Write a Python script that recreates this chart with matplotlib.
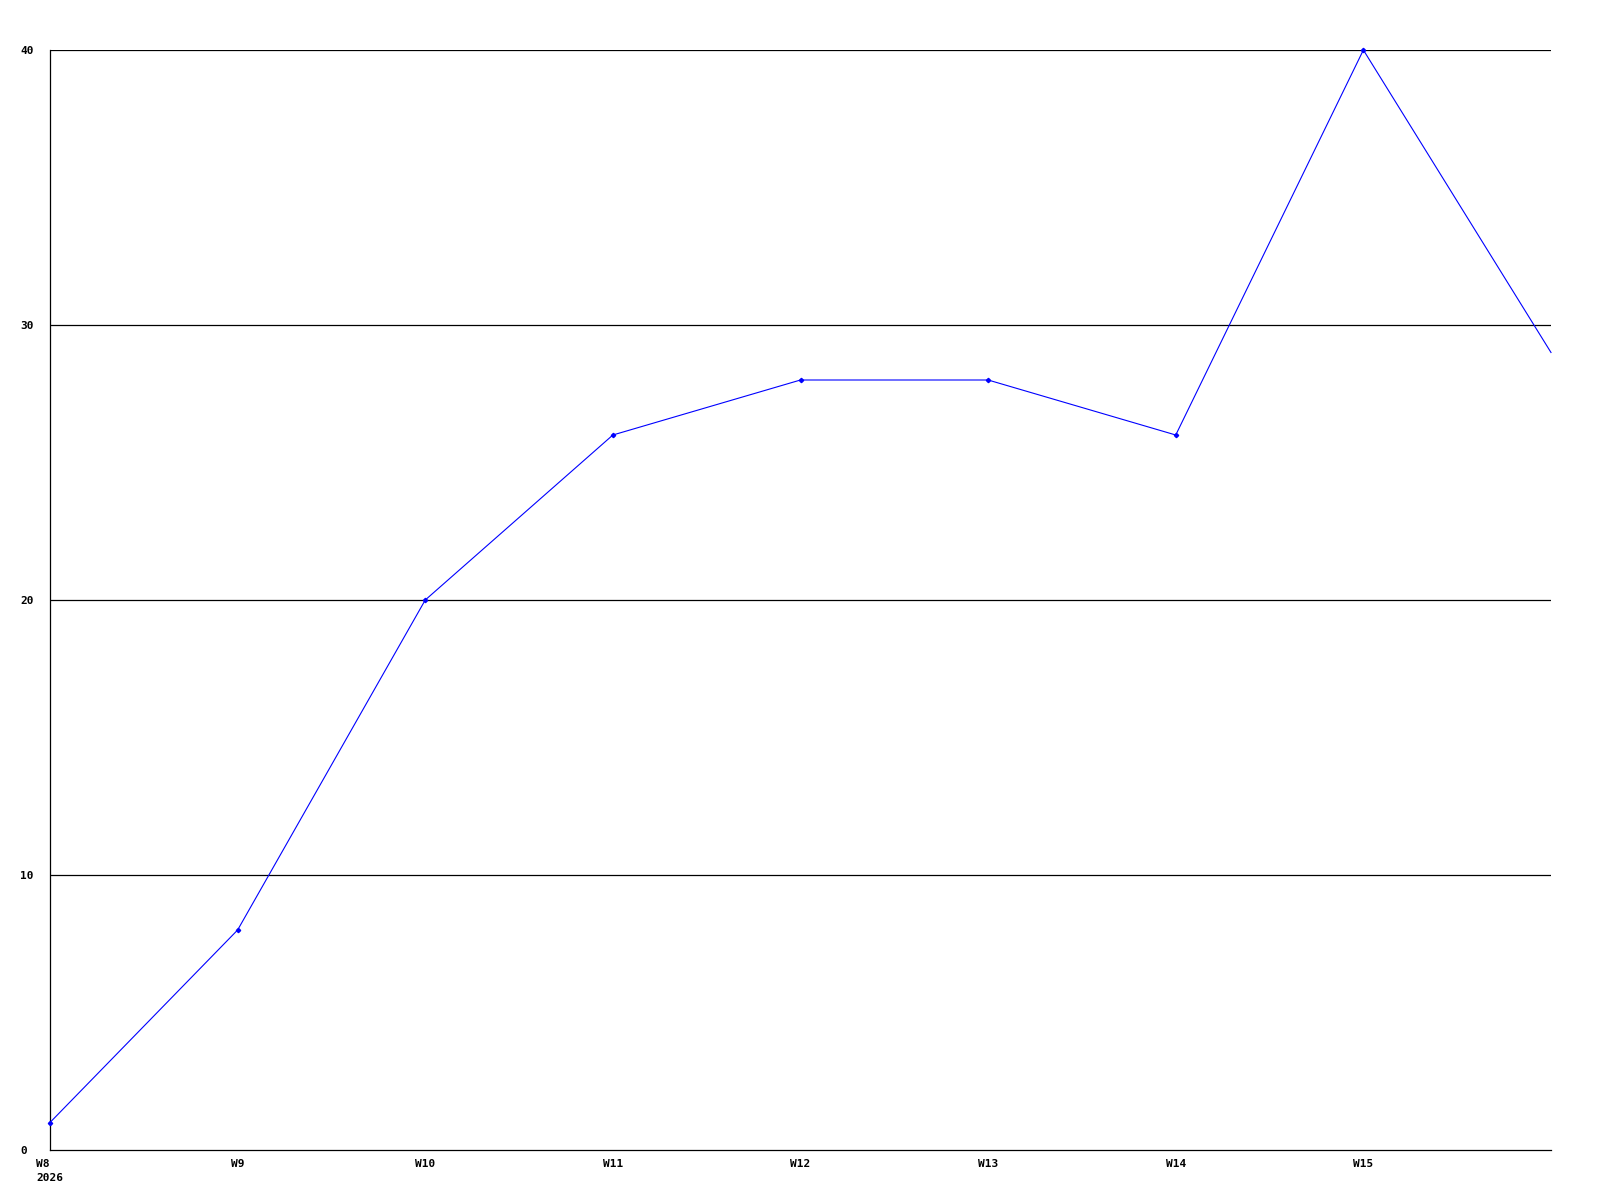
import matplotlib
matplotlib.use("Agg")
import matplotlib.pyplot as plt

weeks = ["W8", "W9", "W10", "W11", "W12", "W13", "W14", "W15", "W16"]
values = [1, 8, 20, 26, 28, 28, 26, 40, 29]
tick_labels = ["W8\n2026", "W9", "W10", "W11", "W12", "W13", "W14", "W15"]
y_ticks = [0, 10, 20, 30, 40]

plt.rcParams["font.family"] = "DejaVu Sans Mono"
plt.rcParams["font.weight"] = "bold"
plt.rcParams["font.size"] = 8

fig = plt.figure(figsize=(16, 12), dpi=100)
ax = fig.add_axes([50 / 1600, 1 - 1150 / 1200, 1501 / 1600, 1100 / 1200])

x = list(range(len(weeks)))
# last point sits on the right edge and has no marker in the original
ax.plot(x, values, color="#0000ff", linewidth=0.8, marker="D", markersize=2.2,
        markevery=list(range(len(weeks) - 1)), clip_on=False, zorder=3)

ax.set_xlim(0, len(weeks) - 1)
ax.set_ylim(0, 40)

ax.set_yticks(y_ticks)
ax.set_yticklabels([str(v) for v in y_ticks], ha="left")
ax.set_xticks(x[:len(tick_labels)])
ax.set_xticklabels(tick_labels, linespacing=1.5)
ax.get_xticklabels()[0].set_multialignment("left")
ax.tick_params(axis="y", length=0, pad=21.6)
ax.tick_params(axis="x", length=0, pad=6.5)

for v in y_ticks[1:]:
    ax.axhline(v, color="black", linewidth=0.9, zorder=1)

for side in ["top", "right"]:
    ax.spines[side].set_visible(False)
for side in ["left", "bottom"]:
    ax.spines[side].set_color("black")
    ax.spines[side].set_linewidth(0.9)

fig.savefig("out.png", dpi=100, facecolor="white")
